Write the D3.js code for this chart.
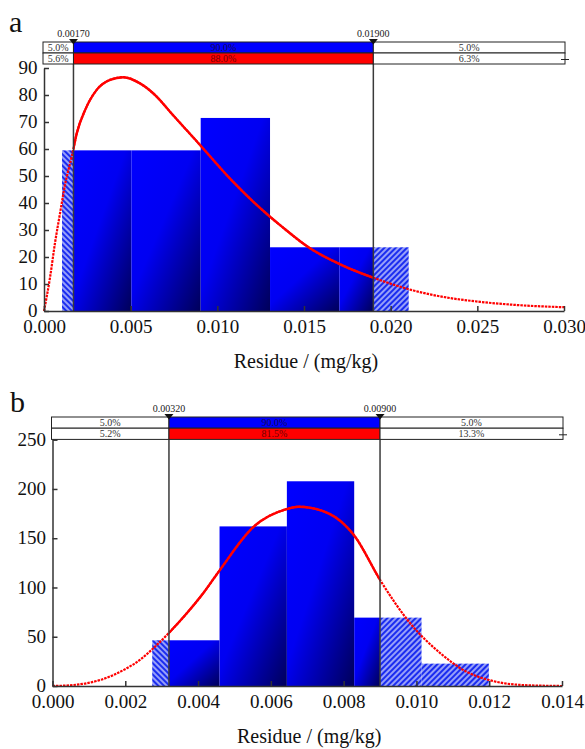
<!DOCTYPE html>
<html lang="en">
<head>
<meta charset="UTF-8">
<script src="https://d3js.org/d3.v7.min.js"></script>
<style>
  body { margin: 0; background: #fff; }
  svg text { font-family: "Liberation Serif", "Times New Roman", serif; }
</style>
</head>
<body>
<div id="chart"></div>
<script>
// ---- panel a data ----
var aBinEdges = [0.00104, 0.00504, 0.00904, 0.01304, 0.01704, 0.02104];
var aCounts = [59.5, 59.5, 71.5, 23.6, 23.6];
var aCurveX = [0.0000, 0.00035, 0.00063, 0.00092, 0.00121, 0.00160, 0.00189, 0.00237, 0.00304,
               0.00381, 0.00458, 0.00554, 0.00650, 0.00727, 0.00900, 0.01090, 0.01304, 0.01362,
               0.01535, 0.01708, 0.01910, 0.02131, 0.02323, 0.02515, 0.02708, 0.03000];
var aCurveY = [0, 12.5, 25, 36, 46.7, 57.2, 65.8, 74.4, 81.9,
               85.6, 86.6, 84.3, 79.4, 73.8, 61.5, 47.9, 34.9, 31.8,
               23.2, 17.3, 12.1, 7.6, 5.0, 3.4, 2.3, 1.4];
var aMarkers = [0.0017, 0.019];
var aMarkerLabels = ["0.00170", "0.01900"];
var aUpperRow = ["5.0%", "90.0%", "5.0%"];
var aLowerRow = ["5.6%", "88.0%", "6.3%"];
var aXTicks = [0, 0.005, 0.010, 0.015, 0.020, 0.025, 0.030];
var aYTicks = [0, 10, 20, 30, 40, 50, 60, 70, 80, 90];

// ---- panel b data ----
var bBinEdges = [0.00274, 0.00459, 0.00644, 0.00829, 0.01014, 0.01199];
var bCounts = [46.4, 162, 207.8, 69.4, 22.7];
var bCurveX = [0.0000, 0.00057, 0.00131, 0.00204, 0.00240, 0.00277, 0.00323, 0.00369, 0.00414,
               0.00460, 0.00553, 0.00645, 0.00676, 0.00758, 0.00828, 0.00903, 0.00983, 0.01066,
               0.01137, 0.01199, 0.01291, 0.01400];
var bCurveY = [0, 1, 6.1, 18, 26.4, 38.3, 55.1, 73.8, 94.1,
               117.8, 161.7, 179.7, 182, 175.3, 153.3, 105.9, 63.6, 33.2,
               14.6, 6.1, 1, 0];
var bMarkers = [0.0032, 0.009];
var bMarkerLabels = ["0.00320", "0.00900"];
var bUpperRow = ["5.0%", "90.0%", "5.0%"];
var bLowerRow = ["5.2%", "81.5%", "13.3%"];
var bXTicks = [0, 0.002, 0.004, 0.006, 0.008, 0.010, 0.012, 0.014];
var bYTicks = [0, 50, 100, 150, 200, 250];

var serif = '"Liberation Serif", "Times New Roman", serif';

var svg = d3.select("#chart").append("svg")
    .attr("width", 585)
    .attr("height", 749);

var defs = svg.append("defs");

// bar shading
var grad = defs.append("linearGradient")
    .attr("id", "barGrad")
    .attr("x1", 0).attr("y1", 0).attr("x2", 1).attr("y2", 1);
grad.append("stop").attr("offset", 0).attr("stop-color", "#0000ff");
grad.append("stop").attr("offset", 0.45).attr("stop-color", "#0000f2");
grad.append("stop").attr("offset", 1).attr("stop-color", "#00005a");

// hatch patterns for the tails
function hatch(id, angle) {
    var p = defs.append("pattern")
        .attr("id", id)
        .attr("patternUnits", "userSpaceOnUse")
        .attr("width", 4).attr("height", 4)
        .attr("patternTransform", "rotate(" + angle + ")");
    p.append("rect").attr("width", 4).attr("height", 4).attr("fill", "#1a2cf0");
    p.append("line").attr("x1", 1).attr("y1", 0).attr("x2", 1).attr("y2", 4)
        .attr("stroke", "#ffffff").attr("stroke-width", 1.1);
}
hatch("hatchL", -45);
hatch("hatchR", 45);

function drawPanel(cfg) {
    var g = svg.append("g");
    var x = d3.scaleLinear().domain(cfg.xDomain).range(cfg.xRange);
    var y = d3.scaleLinear().domain(cfg.yDomain).range(cfg.yRange);
    var lo = cfg.markers[0], hi = cfg.markers[1];

    var bins = cfg.counts.map(function (c, i) {
        return { x0: cfg.edges[i], x1: cfg.edges[i + 1], n: c };
    });

    // solid part of each bin (inside the markers)
    g.selectAll("rect.solid")
        .data(bins.filter(function (d) { return d.x1 > lo && d.x0 < hi; }))
        .enter().append("rect")
        .attr("class", "solid")
        .attr("x", function (d) { return x(Math.max(d.x0, lo)); })
        .attr("width", function (d) { return x(Math.min(d.x1, hi)) - x(Math.max(d.x0, lo)); })
        .attr("y", function (d) { return y(d.n); })
        .attr("height", function (d) { return y(0) - y(d.n); })
        .attr("fill", "url(#barGrad)");

    // hatched left tail
    g.selectAll("rect.tailL")
        .data(bins.filter(function (d) { return d.x0 < lo; }))
        .enter().append("rect")
        .attr("class", "tailL")
        .attr("x", function (d) { return x(d.x0); })
        .attr("width", function (d) { return x(Math.min(d.x1, lo)) - x(d.x0); })
        .attr("y", function (d) { return y(d.n); })
        .attr("height", function (d) { return y(0) - y(d.n); })
        .attr("fill", "url(#hatchL)");

    // hatched right tail
    g.selectAll("rect.tailR")
        .data(bins.filter(function (d) { return d.x1 > hi; }))
        .enter().append("rect")
        .attr("class", "tailR")
        .attr("x", function (d) { return x(Math.max(d.x0, hi)); })
        .attr("width", function (d) { return x(d.x1) - x(Math.max(d.x0, hi)); })
        .attr("y", function (d) { return y(d.n); })
        .attr("height", function (d) { return y(0) - y(d.n); })
        .attr("fill", "url(#hatchR)");

    // fitted curve: dotted everywhere, solid between markers
    var pts = cfg.curveX.map(function (v, i) { return [v, cfg.curveY[i]]; });
    var line = d3.line()
        .x(function (d) { return x(d[0]); })
        .y(function (d) { return y(d[1]); })
        .curve(d3.curveMonotoneX);

    g.append("path")
        .attr("d", line(pts))
        .attr("fill", "none")
        .attr("stroke", "#ff0000")
        .attr("stroke-width", 2.2)
        .attr("stroke-dasharray", "2.5,1");

    var clipId = "clip" + cfg.id;
    defs.append("clipPath").attr("id", clipId)
        .append("rect")
        .attr("x", x(lo)).attr("y", cfg.yRange[1] - 20)
        .attr("width", x(hi) - x(lo))
        .attr("height", cfg.yRange[0] - cfg.yRange[1] + 40);

    g.append("path")
        .attr("d", line(pts))
        .attr("fill", "none")
        .attr("stroke", "#ff0000")
        .attr("stroke-width", 2.4)
        .attr("clip-path", "url(#" + clipId + ")");

    // marker lines
    var boxTop = cfg.boxTop, rowH = cfg.rowH;
    g.selectAll("line.marker")
        .data(cfg.markers)
        .enter().append("line")
        .attr("class", "marker")
        .attr("x1", function (d) { return x(d); })
        .attr("x2", function (d) { return x(d); })
        .attr("y1", boxTop + 2 * rowH)
        .attr("y2", y(0))
        .attr("stroke", "#3a3a3a")
        .attr("stroke-width", 1.5);

    // axes
    var xAxis = d3.axisBottom(x)
        .tickValues(cfg.xTicks)
        .tickFormat(d3.format(".3f"))
        .tickSizeInner(-5).tickSizeOuter(0).tickPadding(9);
    var yAxis = d3.axisLeft(y)
        .tickValues(cfg.yTicks)
        .tickSizeInner(-5).tickSizeOuter(0).tickPadding(6.5);

    var gx = g.append("g")
        .attr("transform", "translate(0," + y(0) + ")")
        .call(xAxis);
    var gy = g.append("g")
        .attr("transform", "translate(" + x(0) + ",0)")
        .call(yAxis);

    [gx, gy].forEach(function (ax) {
        ax.attr("font-family", serif);
        ax.select(".domain").attr("stroke", "#333").attr("stroke-width", 1.5);
        ax.selectAll(".tick line").attr("stroke", "#333").attr("stroke-width", 1.5);
        ax.selectAll(".tick text")
            .attr("fill", "#111")
            .attr("font-family", serif)
            .style("font-size", "19px");
    });
    gy.selectAll(".tick text").attr("dy", "0.3em");

    // axis title
    g.append("text")
        .attr("x", (cfg.xRange[0] + cfg.xRange[1]) / 2 + 2)
        .attr("y", y(0) + 57)
        .attr("text-anchor", "middle")
        .attr("font-size", "20px")
        .attr("fill", "#111")
        .text("Residue / (mg/kg)");

    // panel letter
    g.append("text")
        .attr("x", cfg.letterPos[0])
        .attr("y", cfg.letterPos[1])
        .attr("font-size", "30px")
        .attr("fill", "#111")
        .text(cfg.letter);

    // probability bars on top
    var xl = cfg.xRange[0] - 1, xr = cfg.xRange[1] + 1;
    var cells = [[xl, x(lo)], [x(lo), x(hi)], [x(hi), xr]];
    var rows = [
        { labels: cfg.upper, color: "#0000ff", text: "#160a50", y0: boxTop },
        { labels: cfg.lower, color: "#ff0000", text: "#700000", y0: boxTop + rowH }
    ];
    rows.forEach(function (r) {
        cells.forEach(function (c, i) {
            g.append("rect")
                .attr("x", c[0]).attr("y", r.y0)
                .attr("width", c[1] - c[0]).attr("height", rowH)
                .attr("fill", i === 1 ? r.color : "#ffffff")
                .attr("stroke", "#222").attr("stroke-width", 1);
            g.append("text")
                .attr("x", (c[0] + c[1]) / 2)
                .attr("y", r.y0 + rowH - 2)
                .attr("text-anchor", "middle")
                .attr("font-size", "10px")
                .attr("fill", i === 1 ? r.text : "#333")
                .text(r.labels[i]);
        });
    });

    // little end mark on the lower row
    g.append("line")
        .attr("x1", xr - 4).attr("x2", xr + 4)
        .attr("y1", boxTop + rowH * 1.5 + 1).attr("y2", boxTop + rowH * 1.5 + 1)
        .attr("stroke", "#222").attr("stroke-width", 1);

    // marker labels and triangles
    cfg.markers.forEach(function (m, i) {
        var mx = x(m);
        g.append("text")
            .attr("x", mx).attr("y", boxTop - 5)
            .attr("text-anchor", "middle")
            .attr("font-size", "10px")
            .attr("fill", "#222")
            .text(cfg.markerLabels[i]);
        g.append("path")
            .attr("d", "M" + (mx - 4.5) + "," + (boxTop - 3) + "L" + (mx + 4.5) + "," + (boxTop - 3) +
                "L" + mx + "," + (boxTop + 2.5) + "Z")
            .attr("fill", "#111");
    });
}

drawPanel({
    id: "a", letter: "a", letterPos: [9, 32],
    xDomain: [0, 0.03], xRange: [44, 564],
    yDomain: [0, 90], yRange: [311, 68],
    boxTop: 42, rowH: 11,
    edges: aBinEdges, counts: aCounts,
    curveX: aCurveX, curveY: aCurveY,
    markers: aMarkers, markerLabels: aMarkerLabels,
    upper: aUpperRow, lower: aLowerRow,
    xTicks: aXTicks, yTicks: aYTicks
});

drawPanel({
    id: "b", letter: "b", letterPos: [10, 412],
    xDomain: [0, 0.014], xRange: [52.5, 562],
    yDomain: [0, 250], yRange: [686, 439.7],
    boxTop: 417, rowH: 11.2,
    edges: bBinEdges, counts: bCounts,
    curveX: bCurveX, curveY: bCurveY,
    markers: bMarkers, markerLabels: bMarkerLabels,
    upper: bUpperRow, lower: bLowerRow,
    xTicks: bXTicks, yTicks: bYTicks
});
</script>
</body>
</html>
